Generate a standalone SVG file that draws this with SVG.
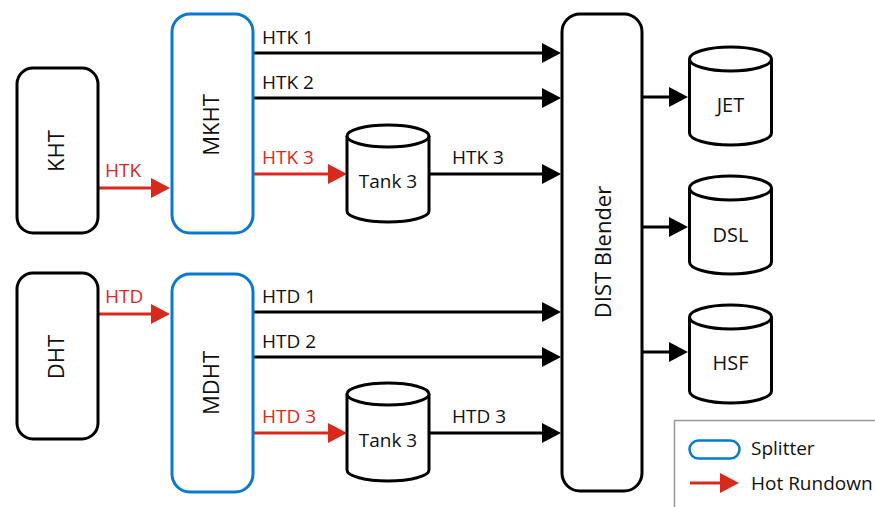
<svg xmlns="http://www.w3.org/2000/svg" width="875" height="507" viewBox="0 0 875 507">
<style>
.box{fill:#fff;stroke:#000;stroke-width:3}
.split{fill:#fff;stroke:#0a78d0;stroke-width:3}
.cyl{fill:#fff;stroke:#000;stroke-width:3}
.lbl{font-family:"Open Sans","Noto Sans",sans-serif;font-size:19px;fill:#111}
.big{font-family:"Open Sans","Noto Sans",sans-serif;font-size:22px;fill:#111;text-anchor:middle}
.cl{font-family:"Open Sans","Noto Sans",sans-serif;font-size:20px;fill:#111;text-anchor:middle}
.red{fill:#d9291c}
.blk{stroke:#000;stroke-width:3;fill:none}
.rln{stroke:#d9291c;stroke-width:3;fill:none}
</style>
<defs>
<marker id="ab" markerUnits="userSpaceOnUse" markerWidth="20" markerHeight="20" refX="15" refY="10" orient="auto" viewBox="0 0 19 20"><path d="M0,0 L19,10 L0,20 z" fill="#000"/></marker>
<marker id="ar" markerUnits="userSpaceOnUse" markerWidth="20" markerHeight="20" refX="15" refY="10" orient="auto" viewBox="0 0 19 20"><path d="M0,0 L19,10 L0,20 z" fill="#d9291c"/></marker>
</defs>

<g id="connectors">
<line class="rln" x1="98" y1="188" x2="166" y2="188" marker-end="url(#ar)"/>
<line class="blk" x1="253" y1="53" x2="557" y2="53" marker-end="url(#ab)"/>
<line class="blk" x1="253" y1="98" x2="557" y2="98" marker-end="url(#ab)"/>
<line class="rln" x1="253" y1="174" x2="343" y2="174" marker-end="url(#ar)"/>
<line class="blk" x1="429" y1="174" x2="557" y2="174" marker-end="url(#ab)"/>
<line class="rln" x1="98" y1="314" x2="166" y2="314" marker-end="url(#ar)"/>
<line class="blk" x1="253" y1="312" x2="557" y2="312" marker-end="url(#ab)"/>
<line class="blk" x1="253" y1="357" x2="557" y2="357" marker-end="url(#ab)"/>
<line class="rln" x1="253" y1="433" x2="343" y2="433" marker-end="url(#ar)"/>
<line class="blk" x1="429" y1="433" x2="557" y2="433" marker-end="url(#ab)"/>
<line class="blk" x1="643" y1="97" x2="684" y2="97" marker-end="url(#ab)"/>
<line class="blk" x1="643" y1="227" x2="684" y2="227" marker-end="url(#ab)"/>
<line class="blk" x1="643" y1="352" x2="684" y2="352" marker-end="url(#ab)"/>
<text class="lbl red" x="105" y="177">HTK</text>
<text class="lbl" x="262" y="44">HTK 1</text>
<text class="lbl" x="262" y="89">HTK 2</text>
<text class="lbl red" x="262" y="164">HTK 3</text>
<text class="lbl" x="452" y="164">HTK 3</text>
<text class="lbl red" x="105" y="303">HTD</text>
<text class="lbl" x="262" y="303">HTD 1</text>
<text class="lbl" x="262" y="348">HTD 2</text>
<text class="lbl red" x="262" y="423">HTD 3</text>
<text class="lbl" x="452" y="423">HTD 3</text>
</g>

<g id="KHT">
<rect class="box" x="17" y="68" width="81" height="165" rx="16"/>
<text class="big" transform="translate(56,151) rotate(-90)" y="8">KHT</text>
</g>
<g id="MKHT">
<rect class="split" x="172" y="14" width="81" height="219" rx="18"/>
<text class="big" transform="translate(211,125) rotate(-90)" y="8">MKHT</text>
</g>
<g id="DHT">
<rect class="box" x="17" y="273" width="81" height="166" rx="16"/>
<text class="big" transform="translate(56,357) rotate(-90)" y="8">DHT</text>
</g>
<g id="MDHT">
<rect class="split" x="172" y="274" width="81" height="218" rx="18"/>
<text class="big" transform="translate(211,383) rotate(-90)" y="8">MDHT</text>
</g>
<g id="Tank3K">
<path class="cyl" d="M347,136 L347,211 A41,11 0 0 0 429,211 L429,136"/>
<ellipse class="cyl" cx="388" cy="136" rx="41" ry="11"/>
<text class="lbl" x="388" y="188" text-anchor="middle">Tank 3</text>
</g>
<g id="Tank3D">
<path class="cyl" d="M347,394 L347,470 A41,11 0 0 0 429,470 L429,394"/>
<ellipse class="cyl" cx="388" cy="394" rx="41" ry="11"/>
<text class="lbl" x="388" y="447" text-anchor="middle">Tank 3</text>
</g>
<g id="DISTBlender">
<rect class="box" x="562" y="14" width="80" height="477" rx="18"/>
<text class="big" transform="translate(602.5,252) rotate(-90)" y="8">DIST Blender</text>
</g>
<g id="JET">
<path class="cyl" d="M689.5,59 L689.5,133 A41,12 0 0 0 771.5,133 L771.5,59"/>
<ellipse class="cyl" cx="730.5" cy="59" rx="41" ry="12"/>
<text class="cl" x="730.5" y="112">JET</text>
</g>
<g id="DSL">
<path class="cyl" d="M689.5,188 L689.5,262 A41,12 0 0 0 771.5,262 L771.5,188"/>
<ellipse class="cyl" cx="730.5" cy="188" rx="41" ry="12"/>
<text class="cl" x="730.5" y="242">DSL</text>
</g>
<g id="HSF">
<path class="cyl" d="M689.5,317 L689.5,391 A41,12 0 0 0 771.5,391 L771.5,317"/>
<ellipse class="cyl" cx="730.5" cy="317" rx="41" ry="12"/>
<text class="cl" x="730.5" y="370">HSF</text>
</g>

<g id="legend">
<rect x="674.5" y="420.5" width="215" height="100" fill="#fff" stroke="#999" stroke-width="1.5"/>
<rect x="689.5" y="440.5" width="50" height="18" rx="9" fill="#fff" stroke="#0a78d0" stroke-width="2.5"/>
<text class="lbl" x="751" y="455">Splitter</text>
<line class="rln" x1="690" y1="483" x2="735" y2="483" marker-end="url(#ar)"/>
<text class="lbl" x="751" y="490">Hot Rundown</text>
</g>
</svg>
